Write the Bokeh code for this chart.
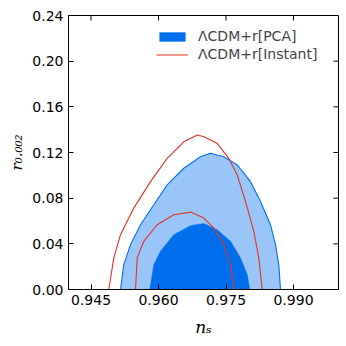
import math
from bokeh.plotting import figure
from bokeh.models import (FixedTicker, PrintfTickFormatter, Legend, LegendItem, Range1d)
from bokeh.embed import file_html
from bokeh.resources import INLINE

# ---- data ----
pca_outer_ns = [0.95156, 0.95229, 0.95378, 0.95600, 0.95896, 0.96193, 0.96562, 0.96933,
                0.97156, 0.97451, 0.97749, 0.98044, 0.98267, 0.98489, 0.98600, 0.98673, 0.98711]
pca_outer_r = [0.0, 0.0218, 0.0393, 0.0567, 0.0742, 0.0916, 0.1062, 0.1163,
               0.1193, 0.1163, 0.1091, 0.0945, 0.0771, 0.0567, 0.0393, 0.0218, 0.0]

pca_inner_ns = [0.95807, 0.95896, 0.96044, 0.96340, 0.96711, 0.97007, 0.97304, 0.97600,
                0.97822, 0.97971, 0.98029]
pca_inner_r = [0.0, 0.0218, 0.0334, 0.0480, 0.0559, 0.0579, 0.0524, 0.0422,
               0.0277, 0.0131, 0.0]

inst_outer_ns = [0.94896, 0.95007, 0.95156, 0.95451, 0.95822, 0.96193, 0.96562, 0.96860,
                 0.97007, 0.97304, 0.97562, 0.97749, 0.97933, 0.98118, 0.98229, 0.98304]
inst_outer_r = [0.0, 0.0277, 0.0480, 0.0713, 0.0945, 0.1149, 0.1294, 0.1353,
                0.1338, 0.1280, 0.1149, 0.1004, 0.0771, 0.0509, 0.0277, 0.0]

inst_inner_ns = [0.95489, 0.95527, 0.95673, 0.95971, 0.96340, 0.96711, 0.97007, 0.97229,
                 0.97451, 0.97600, 0.97673]
inst_inner_r = [0.0, 0.0277, 0.0422, 0.0567, 0.0655, 0.0678, 0.0626, 0.0538,
                0.0393, 0.0218, 0.0]

x_ticks = [0.945, 0.960, 0.975, 0.990]
y_ticks = [0.00, 0.04, 0.08, 0.12, 0.16, 0.20, 0.24]
x_range = (0.94, 1.0)
y_range = (0.0, 0.24)
series_names = ["\u039bCDM+r[PCA]", "\u039bCDM+r[Instant]"]
x_label = "n\u209b"
y_label = "r\u2080.\u2080\u2080\u2082"

DARK = "#006FED"
LIGHT = "#99C5F8"
RED = "#E03424"
TICK_FONT = "DejaVu Sans"

p = figure(width=341, height=339, output_backend="svg", toolbar_location=None,
           x_range=Range1d(*x_range), y_range=Range1d(*y_range),
           min_border_left=68, min_border_right=3, min_border_top=15, min_border_bottom=49)
p.grid.visible = False
p.outline_line_color = "black"
p.outline_line_width = 1
p.background_fill_color = "white"
p.border_fill_color = "white"

for ax in (p.xaxis, p.yaxis):
    ax.major_tick_in = 5
    ax.major_tick_out = 0
    ax.minor_tick_line_color = None
    ax.axis_line_color = "black"
    ax.major_label_text_font = TICK_FONT
    ax.major_label_text_font_size = "14px"
    ax.major_label_text_color = "black"
    ax.axis_label_text_font = "DejaVu Serif"
    ax.axis_label_text_font_style = "italic"
    ax.axis_label_text_color = "black"
p.xaxis.ticker = FixedTicker(ticks=x_ticks)
p.xaxis.formatter = PrintfTickFormatter(format="%.3f")
p.xaxis.major_label_standoff = 5
p.xaxis.axis_label = x_label
p.xaxis.axis_label_text_font_size = "17px"
p.xaxis.axis_label_standoff = 9
p.yaxis.ticker = FixedTicker(ticks=y_ticks)
p.yaxis.formatter = PrintfTickFormatter(format="%.2f")
p.yaxis.major_label_standoff = 5
p.yaxis.axis_label = y_label
p.yaxis.axis_label_text_font_size = "15px"
p.yaxis.axis_label_standoff = 3

# mirrored inward ticks on top and right edges
p.ray(x=x_ticks, y=[y_range[1]] * len(x_ticks), length=5, length_units="screen",
      angle=-math.pi / 2, line_color="black", line_width=1)
p.ray(x=[x_range[1]] * len(y_ticks), y=y_ticks, length=5, length_units="screen",
      angle=math.pi, line_color="black", line_width=1)

# filled PCA contours
p.patch(pca_outer_ns, pca_outer_r, fill_color=LIGHT, line_color=DARK, line_width=1.1)
r_pca = p.patch(pca_inner_ns, pca_inner_r, fill_color=DARK, line_color=DARK, line_width=0.5)

# Instant contours (lines)
r_inst = p.line(inst_outer_ns, inst_outer_r, line_color=RED, line_width=1.1)
p.line(inst_inner_ns, inst_inner_r, line_color=RED, line_width=1.1)

legend = Legend(items=[LegendItem(label=series_names[0], renderers=[r_pca]),
                       LegendItem(label=series_names[1], renderers=[r_inst])],
                location=(88, 227), padding=0, margin=0, spacing=2,
                glyph_width=32, glyph_height=11, label_height=16, label_standoff=10,
                label_text_font=TICK_FONT, label_text_font_size="14px",
                border_line_alpha=0, background_fill_alpha=0)
p.add_layout(legend)

open("out.html", "w").write(file_html(p, INLINE))
